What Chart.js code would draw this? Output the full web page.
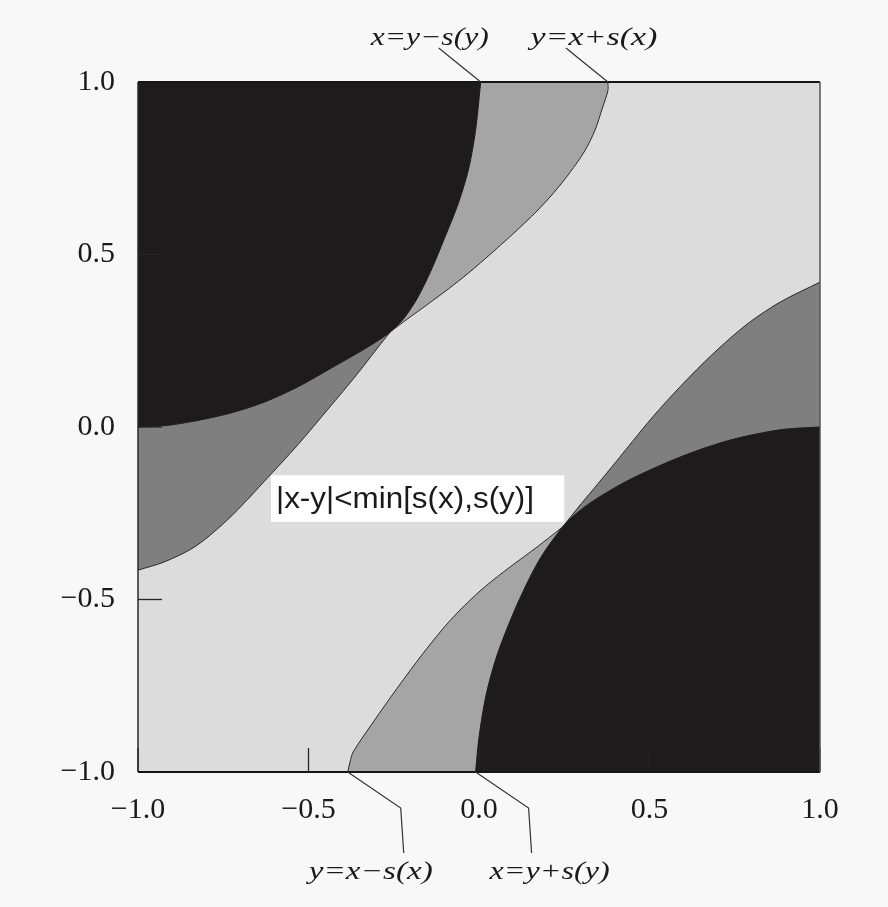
<!DOCTYPE html>
<html><head><meta charset="utf-8">
<script src="https://cdn.jsdelivr.net/npm/chart.js@4/dist/chart.umd.min.js"></script>
<style>html,body{margin:0;padding:0;background:#f8f8f8;}#wrap{width:888px;height:907px;}</style>
</head><body><div id="wrap"><canvas id="c" width="888" height="907"></canvas></div>
<script>
// ---- data (data units) ----
const tickValues = [-1, -0.5, 0, 0.5, 1];
const tickLabels = ['\u22121.0', '\u22120.5', '0.0', '0.5', '1.0'];

// x = y - s(y): edge of the upper-left dark region
const curveA_x = [-1.00, -0.92, -0.83, -0.73, -0.63, -0.53, -0.44, -0.36, -0.30, -0.26, -0.22, -0.18, -0.14, -0.10, -0.06, -0.03, -0.01, 0.005];
const curveA_y = [ 0.00, 0.004, 0.018, 0.04, 0.072, 0.117, 0.167, 0.212, 0.248, 0.276, 0.315, 0.375, 0.455, 0.55, 0.65, 0.75, 0.86, 1.00];

// y = x + s(x): edge of the upper-left grey band (left part, then upper part)
const curveB1_x = [-1.00, -0.92, -0.83, -0.73, -0.63, -0.53, -0.44, -0.36, -0.30, -0.26];
const curveB1_y = [-0.415, -0.39, -0.345, -0.262, -0.158, -0.05, 0.055, 0.15, 0.226, 0.276];
const curveB2_x = [-0.26, -0.21, -0.15, -0.09, -0.03, 0.03, 0.10, 0.17, 0.22, 0.267, 0.31, 0.34, 0.362, 0.378, 0.378];
const curveB2_y = [0.276, 0.313, 0.356, 0.40, 0.447, 0.498, 0.56, 0.626, 0.68, 0.738, 0.80, 0.86, 0.925, 0.975, 1.00];

// y = x - s(x): edge of the lower-right grey band (lower part, then right part)
const curveC1_x = [-0.385, -0.378, -0.369, -0.31, -0.24, -0.163, -0.084, 0.00, 0.072, 0.17, 0.245];
const curveC1_y = [-1.00, -0.97, -0.942, -0.855, -0.757, -0.655, -0.56, -0.478, -0.42, -0.348, -0.29];
const curveC2_x = [0.245, 0.30, 0.35, 0.40, 0.45, 0.51, 0.59, 0.686, 0.786, 0.883, 1.00];
const curveC2_y = [-0.29, -0.222, -0.163, -0.103, -0.042, 0.03, 0.117, 0.212, 0.298, 0.362, 0.42];

// x = y + s(y): edge of the lower-right dark region
const curveD_x = [-0.01, 0.00, 0.02, 0.05, 0.09, 0.13, 0.18, 0.245, 0.29, 0.346, 0.443, 0.59, 0.736, 0.883, 1.00];
const curveD_y = [-1.00, -0.90, -0.78, -0.67, -0.565, -0.475, -0.38, -0.29, -0.247, -0.207, -0.152, -0.087, -0.038, -0.008, 0.00];

const topLabels = ['x=y\u2212s(y)', 'y=x+s(x)'];
const bottomLabels = ['y=x\u2212s(x)', 'x=y+s(y)'];
const centerLabel = '|x-y|<min[s(x),s(y)]';
const centerBox = {x1: -0.61, x2: 0.25, y1: -0.14, y2: -0.275};

// ---- styles ----
const DARK = '#1d1b1b', MID_DARK = '#7f7f7f', MID_LIGHT = '#a5a5a5', LIGHT = '#dcdcdc', EDGE = '#2a2a2a';
const pts = (xs, ys) => xs.map((x, i) => ({x: x, y: ys[i]}));
const base = {pointRadius: 0, borderWidth: 1, tension: 0.3};

function fitText(ctx, text, cx, y, width, baseline) {
  const w = ctx.measureText(text).width;
  ctx.save();
  ctx.translate(cx, y); ctx.scale(width / w, 1);
  ctx.textAlign = 'center'; ctx.textBaseline = baseline;
  ctx.fillText(text, 0, 0);
  ctx.restore();
}

const areaPlugin = {
  id: 'area',
  beforeDatasetsDraw(chart) {
    const {ctx, chartArea: a} = chart;
    ctx.save(); ctx.fillStyle = LIGHT; ctx.fillRect(a.left, a.top, a.right - a.left, a.bottom - a.top); ctx.restore();
  },
  afterDatasetsDraw(chart) {
    const {ctx, chartArea: a, scales} = chart;
    const X = scales.x, Y = scales.y;
    ctx.save();
    // inner ticks
    ctx.strokeStyle = '#262626'; ctx.lineWidth = 1.3;
    tickValues.forEach(v => {
      const px = X.getPixelForValue(v), py = Y.getPixelForValue(v);
      ctx.beginPath(); ctx.moveTo(px, a.bottom); ctx.lineTo(px, a.bottom - 24); ctx.stroke();
      ctx.beginPath(); ctx.moveTo(a.left, py); ctx.lineTo(a.left + 24, py); ctx.stroke();
    });
    // frame
    ctx.strokeStyle = '#151515'; ctx.lineWidth = 2;
    ctx.beginPath(); ctx.moveTo(a.left, a.top); ctx.lineTo(a.right, a.top); ctx.stroke();
    ctx.beginPath(); ctx.moveTo(a.left, a.bottom); ctx.lineTo(a.right, a.bottom); ctx.stroke();
    ctx.lineWidth = 1.5; ctx.strokeStyle = '#2a2a2a';
    ctx.beginPath(); ctx.moveTo(a.left, a.top); ctx.lineTo(a.left, a.bottom); ctx.stroke();
    ctx.strokeStyle = '#555';
    ctx.beginPath(); ctx.moveTo(a.right, a.top); ctx.lineTo(a.right, a.bottom); ctx.stroke();

    // centre label box
    const bx1 = X.getPixelForValue(centerBox.x1), bx2 = X.getPixelForValue(centerBox.x2);
    const by1 = Y.getPixelForValue(centerBox.y1), by2 = Y.getPixelForValue(centerBox.y2);
    ctx.fillStyle = '#ffffff'; ctx.fillRect(bx1, by1, bx2 - bx1, by2 - by1);
    ctx.fillStyle = '#1a1a1a'; ctx.font = "30px 'Liberation Sans'";
    fitText(ctx, centerLabel, bx1 + 5 + 129, (by1 + by2) / 2 + 1, 258, 'middle');

    // leader lines + labels
    ctx.strokeStyle = '#333'; ctx.lineWidth = 1.2; ctx.fillStyle = '#1a1a1a';
    ctx.font = "italic 25px 'Liberation Serif'";
    const aTop = {x: X.getPixelForValue(curveA_x[curveA_x.length - 1]), y: Y.getPixelForValue(curveA_y[curveA_y.length - 1])};
    const bTop = {x: X.getPixelForValue(curveB2_x[curveB2_x.length - 1]), y: Y.getPixelForValue(curveB2_y[curveB2_y.length - 1])};
    const cBot = {x: X.getPixelForValue(curveC1_x[0]), y: Y.getPixelForValue(curveC1_y[0])};
    const dBot = {x: X.getPixelForValue(curveD_x[0]), y: Y.getPixelForValue(curveD_y[0])};
    [[aTop, topLabels[0], -51, 118], [bTop, topLabels[1], -14, 127]].forEach(([p, t, dx, w]) => {
      ctx.beginPath(); ctx.moveTo(p.x, p.y); ctx.lineTo(p.x - 42, p.y - 34); ctx.stroke();
      fitText(ctx, t, p.x + dx, p.y - 37, w, 'alphabetic');
    });
    [[cBot, bottomLabels[0], 23, 124], [dBot, bottomLabels[1], 74, 120]].forEach(([p, t, dx, w]) => {
      ctx.beginPath(); ctx.moveTo(p.x, p.y); ctx.lineTo(p.x + 53, p.y + 36); ctx.lineTo(p.x + 56, p.y + 81); ctx.stroke();
      fitText(ctx, t, p.x + dx, p.y + 107, w, 'alphabetic');
    });
    ctx.restore();
  }
};

const tickFont = {family: "'Liberation Serif'", size: 30};
const labelFor = v => { const i = tickValues.findIndex(t => Math.abs(t - v) < 1e-9); return i >= 0 ? tickLabels[i] : ''; };

new Chart(document.getElementById('c'), {
  type: 'line',
  data: {
    datasets: [
      Object.assign({label: 'A', data: pts(curveA_x, curveA_y), fill: 'end', backgroundColor: DARK, borderColor: DARK, order: 1}, base),
      Object.assign({label: 'D', data: pts(curveD_x, curveD_y), fill: 'start', backgroundColor: DARK, borderColor: DARK, order: 1}, base),
      Object.assign({label: 'B1', data: pts(curveB1_x, curveB1_y), fill: 'end', backgroundColor: MID_DARK, borderColor: EDGE, order: 2}, base),
      Object.assign({label: 'B2', data: pts(curveB2_x, curveB2_y), fill: 'end', backgroundColor: MID_LIGHT, borderColor: EDGE, order: 2}, base),
      Object.assign({label: 'C1', data: pts(curveC1_x, curveC1_y), fill: 'start', backgroundColor: MID_LIGHT, borderColor: EDGE, order: 2}, base),
      Object.assign({label: 'C2', data: pts(curveC2_x, curveC2_y), fill: 'start', backgroundColor: MID_DARK, borderColor: EDGE, order: 2}, base)
    ]
  },
  options: {
    responsive: false, animation: false, devicePixelRatio: 1,
    layout: {padding: {top: 82, right: 68, left: 0, bottom: 0}},
    plugins: {legend: {display: false}, tooltip: {enabled: false}},
    scales: {
      x: {
        type: 'linear', min: -1, max: 1,
        afterBuildTicks: s => { s.ticks = tickValues.map(v => ({value: v})); },
        afterFit: s => { s.height = 135; },
        grid: {display: false}, border: {display: false},
        ticks: {callback: v => labelFor(v), font: tickFont, color: '#1a1a1a', padding: 12, maxRotation: 0, autoSkip: false}
      },
      y: {
        type: 'linear', min: -1, max: 1,
        afterBuildTicks: s => { s.ticks = tickValues.map(v => ({value: v})); },
        afterFit: s => { s.width = 138; },
        grid: {display: false}, border: {display: false},
        ticks: {callback: v => labelFor(v), font: tickFont, color: '#1a1a1a', padding: 15, autoSkip: false}
      }
    }
  },
  plugins: [areaPlugin]
});
</script></body></html>
